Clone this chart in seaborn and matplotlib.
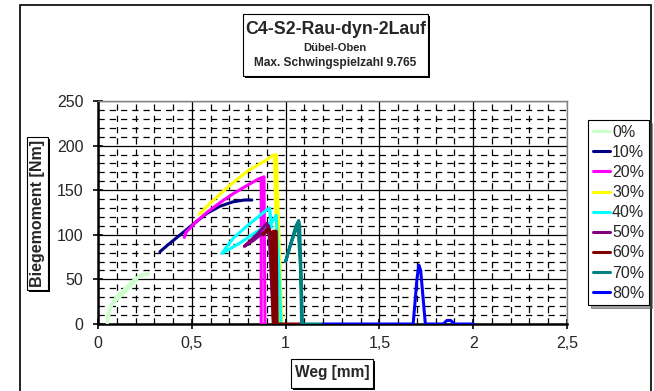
import pandas as pd
import matplotlib
matplotlib.use("Agg")
import matplotlib.pyplot as plt
from matplotlib.lines import Line2D
from matplotlib.patches import Rectangle
from matplotlib.ticker import MultipleLocator, FuncFormatter
import seaborn as sns

# data (Weg [mm], Biegemoment [Nm])
labels = ["0%", "10%", "20%", "30%", "40%", "50%", "60%", "70%", "80%"]
colors = ["#CCFFCC", "#000080", "#FF00FF", "#FFFF00", "#00FFFF",
          "#800080", "#800000", "#008080", "#0000FF"]

x_0 = [0.05, 0.05, 0.06, 0.08, 0.11, 0.15, 0.19, 0.22, 0.27, 0.23, 0.19, 0.14, 0.10, 0.07, 0.055]
y_0 = [0, 8, 17, 23, 29, 37, 46, 54, 56, 55, 49, 39, 31, 22, 6]

x_10 = [0.33, 0.38, 0.45, 0.52, 0.58, 0.65, 0.72, 0.78, 0.82]
y_10 = [81, 90, 102, 114, 124, 132, 137, 139, 139]

x_20 = [0.46, 0.47, 0.52, 0.58, 0.65, 0.72, 0.80, 0.86, 0.885, 0.89, 0.87, 0.87]
y_20 = [97, 103, 114, 125, 136, 146, 156, 163, 165, 0, 0, 163]

x_30 = [0.54, 0.60, 0.70, 0.80, 0.90, 0.93, 0.95, 0.98, 0.965, 0.94]
y_30 = [123, 136, 155, 172, 184, 189, 190, 0, 0, 186]

x_40 = [0.925, 0.915, 0.90, 0.80, 0.72, 0.66, 0.75, 0.85, 0.93, 0.95, 0.965, 0.975]
y_40 = [108, 130, 128, 111, 96, 79, 90, 104, 115, 122, 60, 0]

x_50 = [0.92, 0.90, 0.85, 0.78, 0.83, 0.89, 0.91, 0.935]
y_50 = [100, 113, 101, 87, 94, 104, 110, 0]

x_60 = [0.88, 0.90, 0.91, 0.92, 0.935, 0.945, 0.935, 0.95, 0.955, 1.09]
y_60 = [100, 104, 107, 103, 0, 0, 104, 104, 0, 0]

x_70 = [1.20, 1.09, 1.075, 1.07, 1.05, 1.025, 1.0, 1.03, 1.055, 1.065, 1.08, 1.085]
y_70 = [0, 0, 110, 116, 103, 88, 70, 92, 110, 114, 60, 0]

x_80 = [1.20, 1.68, 1.70, 1.71, 1.72, 1.745, 1.84, 1.86, 1.88, 1.90, 2.0]
y_80 = [0, 0, 50, 66, 60, 0, 0, 4, 4, 0, 0]

all_x = [x_0, x_10, x_20, x_30, x_40, x_50, x_60, x_70, x_80]
all_y = [y_0, y_10, y_20, y_30, y_40, y_50, y_60, y_70, y_80]

frames = []
for lab, xs, ys in zip(labels, all_x, all_y):
    frames.append(pd.DataFrame({"Weg": xs, "Moment": ys, "Stufe": lab}))
df = pd.concat(frames, ignore_index=True)

sns.set_style("white")
plt.rcParams["font.family"] = ["Liberation Sans", "DejaVu Sans"]

fig = plt.figure(figsize=(6.54, 3.91), dpi=100)
ax = fig.add_axes([98 / 654, 1 - 324 / 391, (567 - 98) / 654, (324 - 101) / 391])

sns.lineplot(data=df, x="Weg", y="Moment", hue="Stufe", units="Stufe",
             estimator=None, sort=False, palette=dict(zip(labels, colors)),
             hue_order=labels, linewidth=2.2, legend=False, ax=ax, zorder=3)

ax.set_xlim(0, 2.5)
ax.set_ylim(0, 250)
ax.xaxis.set_major_locator(MultipleLocator(0.5))
ax.xaxis.set_minor_locator(MultipleLocator(0.1))
ax.yaxis.set_major_locator(MultipleLocator(50))
ax.yaxis.set_minor_locator(MultipleLocator(10))
ax.xaxis.set_major_formatter(FuncFormatter(lambda v, p: f"{v:g}".replace(".", ",")))
ax.grid(which="major", color="black", linewidth=0.9, linestyle="-", zorder=1)
ax.grid(which="minor", color="black", linewidth=0.9, linestyle=(0, (5, 4)), zorder=1)
ax.set_axisbelow(True)
ax.tick_params(which="major", direction="inout", length=7, width=1.2, color="black",
               labelsize=11.5, pad=5, bottom=True, left=True)
ax.tick_params(axis="y", which="major", pad=7)
ax.tick_params(which="minor", length=0)
ax.set_xlabel("")
ax.set_ylabel("")
for side in ["left", "bottom"]:
    ax.spines[side].set_color("black")
    ax.spines[side].set_linewidth(1.8)
for side in ["top", "right"]:
    ax.spines[side].set_color("#808080")
    ax.spines[side].set_linewidth(1.0)


def boxed(x0, y0, x1, y1):
    # white box with a small black drop shadow, pixel coords from the top left
    fig.patches.append(Rectangle((x0 / 654 + 2 / 654, 1 - (y1 + 2) / 391),
                                 (x1 - x0) / 654, (y1 - y0) / 391,
                                 transform=fig.transFigure, facecolor="black", edgecolor="none"))
    fig.patches.append(Rectangle((x0 / 654, 1 - y1 / 391), (x1 - x0) / 654, (y1 - y0) / 391,
                                 transform=fig.transFigure, facecolor="white",
                                 edgecolor="black", linewidth=0.8))


# outer chart border
fig.patches.append(Rectangle((20 / 654, -0.1), 631 / 654, 1.1 - 5 / 391,
                             transform=fig.transFigure, fill=False,
                             edgecolor="black", linewidth=1.2, clip_on=False))

# title box
boxed(243, 14, 428, 76)
fig.text(336 / 654, 1 - 30 / 391, "C4-S2-Rau-dyn-2Lauf", ha="center", va="center",
         fontsize=12.8, fontweight="bold")
fig.text(335 / 654, 1 - 48 / 391, "Dübel-Oben", ha="center", va="center",
         fontsize=8, fontweight="bold")
fig.text(335 / 654, 1 - 63 / 391, "Max. Schwingspielzahl 9.765", ha="center", va="center",
         fontsize=8.6, fontweight="bold")

# axis label boxes
boxed(27, 137, 48, 290)
fig.text(38 / 654, 1 - 213 / 391, "Biegemoment [Nm]", rotation=90, ha="center",
         va="center", fontsize=11.5, fontweight="bold")
boxed(291, 359, 373, 388)
fig.text(332 / 654, 1 - 373 / 391, "Weg [mm]", ha="center", va="center",
         fontsize=11.2, fontweight="bold")

# legend
handles = [Line2D([0], [0], color=c, linewidth=2.2) for c in colors]
leg = fig.legend(handles, labels, loc="upper left", bbox_to_anchor=(588 / 654, 1 - 120 / 391),
                 fontsize=11.5, frameon=True, fancybox=False, shadow=True,
                 handlelength=1.1, handletextpad=0.1, labelspacing=0.32,
                 borderpad=0.3, borderaxespad=0)
leg.get_frame().set_edgecolor("black")
leg.get_frame().set_linewidth(0.8)

fig.savefig("out.png", dpi=100)
